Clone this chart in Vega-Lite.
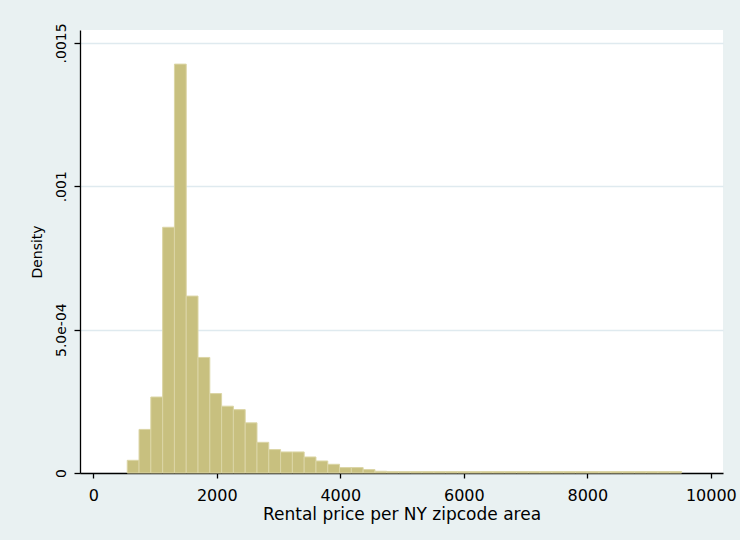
{
  "$schema": "https://vega.github.io/schema/vega-lite/v6.json",
  "width": 643,
  "height": 443,
  "autosize": {"type": "none"},
  "padding": {"left": 80, "top": 30, "right": 17, "bottom": 67},
  "background": "#e9f1f2",
  "config": {
    "view": {"fill": "#ffffff", "stroke": null},
    "font": "DejaVu Sans"
  },
  "data": {
    "values": [
      {"x0": 550, "x1": 741, "density": 0.0000443},
      {"x0": 741, "x1": 932, "density": 0.000152},
      {"x0": 932, "x1": 1123, "density": 0.000265},
      {"x0": 1123, "x1": 1314, "density": 0.000857},
      {"x0": 1314, "x1": 1505, "density": 0.001426},
      {"x0": 1505, "x1": 1696, "density": 0.000617},
      {"x0": 1696, "x1": 1887, "density": 0.000403},
      {"x0": 1887, "x1": 2078, "density": 0.000277},
      {"x0": 2078, "x1": 2269, "density": 0.000233},
      {"x0": 2269, "x1": 2460, "density": 0.000221},
      {"x0": 2460, "x1": 2651, "density": 0.000175},
      {"x0": 2651, "x1": 2842, "density": 0.000107},
      {"x0": 2842, "x1": 3033, "density": 0.0000817},
      {"x0": 3033, "x1": 3224, "density": 0.0000734},
      {"x0": 3224, "x1": 3415, "density": 0.0000734},
      {"x0": 3415, "x1": 3606, "density": 0.0000559},
      {"x0": 3606, "x1": 3797, "density": 0.0000419},
      {"x0": 3797, "x1": 3988, "density": 0.0000304},
      {"x0": 3988, "x1": 4179, "density": 0.0000189},
      {"x0": 4179, "x1": 4370, "density": 0.0000189},
      {"x0": 4370, "x1": 4561, "density": 0.0000119},
      {"x0": 4561, "x1": 4752, "density": 0.000006},
      {"x0": 4752, "x1": 4943, "density": 0.000005},
      {"x0": 4943, "x1": 5134, "density": 0.000005},
      {"x0": 5134, "x1": 5325, "density": 0.000005},
      {"x0": 5325, "x1": 5516, "density": 0.000005},
      {"x0": 5516, "x1": 5707, "density": 0.000005},
      {"x0": 5707, "x1": 5898, "density": 0.000005},
      {"x0": 5898, "x1": 6089, "density": 0.000005},
      {"x0": 6089, "x1": 6280, "density": 0.000005},
      {"x0": 6280, "x1": 6471, "density": 0.000005},
      {"x0": 6471, "x1": 6662, "density": 0.000005},
      {"x0": 6662, "x1": 6853, "density": 0.000005},
      {"x0": 6853, "x1": 7044, "density": 0.000005},
      {"x0": 7044, "x1": 7235, "density": 0.000005},
      {"x0": 7235, "x1": 7426, "density": 0.000005},
      {"x0": 7426, "x1": 7617, "density": 0.000005},
      {"x0": 7617, "x1": 7808, "density": 0.000005},
      {"x0": 7808, "x1": 7999, "density": 0.000005},
      {"x0": 7999, "x1": 8190, "density": 0.000005},
      {"x0": 8190, "x1": 8381, "density": 0.000005},
      {"x0": 8381, "x1": 8572, "density": 0.000005},
      {"x0": 8572, "x1": 8763, "density": 0.000005},
      {"x0": 8763, "x1": 8954, "density": 0.000005},
      {"x0": 8954, "x1": 9145, "density": 0.000005},
      {"x0": 9145, "x1": 9336, "density": 0.000005},
      {"x0": 9336, "x1": 9527, "density": 0.000005}
    ]
  },
  "mark": {"type": "rect", "fill": "#c8c07f", "stroke": "#dbd5a5", "strokeWidth": 1},
  "encoding": {
    "x": {
      "field": "x0",
      "type": "quantitative",
      "scale": {"domain": [-215, 10197], "nice": false, "zero": false},
      "axis": {
        "title": "Rental price per NY zipcode area",
        "values": [0, 2000, 4000, 6000, 8000, 10000],
        "format": "d",
        "grid": false,
        "domainColor": "#000000",
        "domainWidth": 1.3,
        "tickColor": "#000000",
        "tickWidth": 1.3,
        "tickSize": 5,
        "labelFont": "DejaVu Sans",
        "labelFontSize": 16,
        "labelColor": "#000000",
        "labelPadding": 9,
        "labelFlush": false,
        "titleFont": "DejaVu Sans",
        "titleFontSize": 17,
        "titleFontWeight": "normal",
        "titleColor": "#000000",
        "titlePadding": 3
      }
    },
    "x2": {"field": "x1"},
    "y": {
      "field": "density",
      "type": "quantitative",
      "scale": {"domain": [0, 0.001545], "nice": false},
      "axis": {
        "title": "Density",
        "values": [0, 0.0005, 0.001, 0.0015],
        "labelExpr": "datum.value == 0 ? '0' : datum.value == 0.0005 ? '5.0e-04' : datum.value == 0.001 ? '.001' : '.0015'",
        "grid": true,
        "gridColor": "#dfeaef",
        "gridWidth": 1.3,
        "domainColor": "#000000",
        "domainWidth": 1.3,
        "tickColor": "#000000",
        "tickWidth": 1.3,
        "tickSize": 6,
        "labelAngle": -90,
        "labelAlign": "center",
        "labelBaseline": "alphabetic",
        "labelFont": "DejaVu Sans",
        "labelFontSize": 14,
        "labelColor": "#000000",
        "labelPadding": 9,
        "labelFlush": false,
        "titleFont": "DejaVu Sans",
        "titleFontSize": 14,
        "titleFontWeight": "normal",
        "titleColor": "#000000",
        "titlePadding": 10
      }
    },
    "y2": {"datum": 0}
  }
}
